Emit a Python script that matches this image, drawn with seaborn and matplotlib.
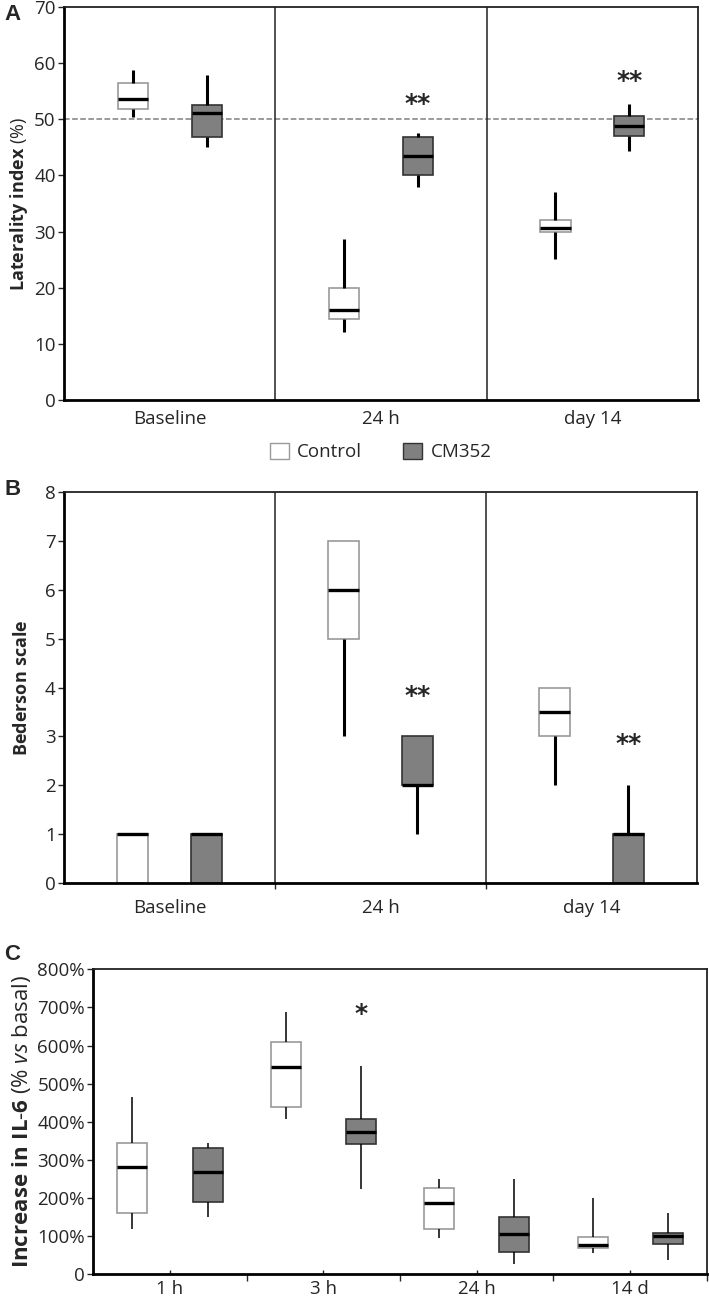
import pandas as pd
import seaborn as sns
import matplotlib.pyplot as plt
from matplotlib.patches import Patch
from matplotlib.ticker import FixedLocator, FuncFormatter

groups = ["Control", "CM352"]
colors = {"Control": "white", "CM352": "#808080"}

# five-number summaries: [min, q1, median, q3, max]
lat_times = ["Baseline", "24 h", "day 14"]
lat_control = [[50.5, 51.9, 53.6, 56.5, 58.7],
               [12.2, 14.4, 16.0, 19.9, 28.6],
               [25.2, 30.0, 30.6, 32.1, 37.0]]
lat_cm352 = [[45.1, 46.8, 51.2, 52.6, 57.9],
             [38.0, 40.0, 43.4, 46.8, 47.6],
             [44.4, 47.1, 48.8, 50.6, 52.8]]
lat_stars = ["", "**", "**"]
lat_star_y = [0, 52.8, 56.9]

bed_times = ["Baseline", "24 h", "day 14"]
bed_control = [[0, 0, 1, 1, 1],
               [3, 5, 6, 7, 7],
               [2, 3, 3.5, 4, 4]]
bed_cm352 = [[0, 0, 1, 1, 1],
             [1, 2, 2, 3, 3],
             [0, 0, 1, 1, 2]]
bed_stars = ["", "**", "**"]
bed_star_y = [0, 3.83, 2.85]

il6_times = ["1 h", "3 h", "24 h", "14 d"]
il6_control = [[118, 160, 281, 345, 465],
               [408, 439, 544, 608, 689],
               [96, 119, 186, 227, 250],
               [55, 68, 77, 99, 201]]
il6_cm352 = [[150, 189, 269, 330, 344],
             [224, 341, 372, 408, 545],
             [28, 59, 105, 150, 250],
             [38, 80, 101, 108, 160]]
il6_stars = ["", "*", "", ""]
il6_star_y = [0, 683, 0, 0]

FS = 13.5


def to_long(times, control, cm):
    rows = []
    for t, c, m in zip(times, control, cm):
        rows += [(t, "Control", v) for v in c]
        rows += [(t, "CM352", v) for v in m]
    return pd.DataFrame(rows, columns=["time", "group", "value"])


def draw_boxes(ax, df, order, width, gap, whisker_lw):
    sns.boxplot(data=df, x="time", y="value", hue="group", order=order,
                hue_order=groups, palette=colors, saturation=1, width=width,
                gap=gap, whis=(0, 100), showfliers=False, showcaps=False,
                legend=False, ax=ax, linewidth=1.2, linecolor="black",
                whiskerprops=dict(linewidth=whisker_lw, color="black"),
                medianprops=dict(linewidth=2.4, color="black"))
    for p in ax.patches:
        if p.get_facecolor()[0] > 0.9:
            p.set_edgecolor("#9a9a9a")
        else:
            p.set_edgecolor("#333333")


def stars(ax, labels, ys, offset, size):
    for i, (s, y) in enumerate(zip(labels, ys)):
        if s:
            ax.text(i + offset, y, s, ha="center", va="center", fontsize=size,
                    fontweight="bold", family="DejaVu Sans")


sns.set_style("white")
plt.rcParams["font.family"] = ["Open Sans", "DejaVu Sans"]
plt.rcParams["mathtext.fontset"] = "custom"
plt.rcParams["mathtext.rm"] = "Open Sans"
plt.rcParams["mathtext.bf"] = "Open Sans:bold"
plt.rcParams["mathtext.it"] = "Open Sans:italic"

fig = plt.figure(figsize=(7.09, 13.01), dpi=100)
axA = fig.add_axes([0.0903, 0.6925, 0.8942, 0.3021])
axB = fig.add_axes([0.0903, 0.3211, 0.8927, 0.3009])
axC = fig.add_axes([0.1316, 0.0205, 0.8654, 0.2345])

# panel A
draw_boxes(axA, to_long(lat_times, lat_control, lat_cm352), lat_times, 0.7, 0.59, 2.2)
axA.axhline(50, ls="--", color="#808080", lw=1.1, zorder=0)
for b in [0.5, 1.5]:
    axA.axvline(b, color="#222222", lw=1.1, zorder=0)
stars(axA, lat_stars, lat_star_y, 0.175, 18)
axA.set_xlim(-0.5, 2.5)
axA.set_ylim(0, 70)
axA.set_yticks(range(0, 71, 10))
axA.set_xlabel("")
axA.set_ylabel(r"$\bf{Laterality\ index}$ (%)", fontsize=13, labelpad=3)
axA.tick_params(axis="x", length=0, pad=7, labelsize=FS)
axA.tick_params(axis="y", left=True, length=4, width=1, pad=2, labelsize=FS)

# panel B
draw_boxes(axB, to_long(bed_times, bed_control, bed_cm352), bed_times, 0.7, 0.59, 2.2)
for b in [0.5, 1.5]:
    axB.axvline(b, color="#222222", lw=1.1, zorder=0)
stars(axB, bed_stars, bed_star_y, 0.175, 18)
axB.set_xlim(-0.5, 2.5)
axB.set_ylim(0, 8)
axB.set_yticks(range(0, 9))
axB.set_xlabel("")
axB.set_ylabel(r"$\bf{Bederson\ scale}$", fontsize=13, labelpad=10)
axB.xaxis.set_minor_locator(FixedLocator([0.5, 1.5]))
axB.tick_params(axis="x", which="major", length=0, pad=11, labelsize=FS)
axB.tick_params(axis="x", which="minor", bottom=True, length=4, width=1)
axB.tick_params(axis="y", left=True, length=4, width=1, pad=2, labelsize=FS)

# panel C
draw_boxes(axC, to_long(il6_times, il6_control, il6_cm352), il6_times, 0.98, 0.6, 1.1)
stars(axC, il6_stars, il6_star_y, 0.245, 18)
axC.set_xlim(-0.5, 3.5)
axC.set_ylim(0, 800)
axC.set_yticks(range(0, 801, 100))
axC.yaxis.set_major_formatter(FuncFormatter(lambda v, p: "0" if v == 0 else f"{int(v)}%"))
axC.set_xlabel("")
axC.set_ylabel(r"$\bf{Increase\ in\ IL}$-$\bf{6}$ (% $\it{vs}$ basal)", fontsize=16, labelpad=3)
axC.xaxis.set_minor_locator(FixedLocator([0.5, 1.5, 2.5, 3.5]))
axC.tick_params(axis="x", which="major", bottom=True, direction="in", length=3, width=1, pad=4, labelsize=FS)
axC.tick_params(axis="x", which="minor", bottom=True, length=5, width=1)
axC.tick_params(axis="y", left=True, length=4, width=1, pad=2, labelsize=FS)

for ax in [axA, axB, axC]:
    for side in ["top", "right"]:
        ax.spines[side].set_linewidth(1.3)
        ax.spines[side].set_color("#222222")
    for side in ["left", "bottom"]:
        ax.spines[side].set_linewidth(2)
        ax.spines[side].set_color("black")

handles = [Patch(facecolor="white", edgecolor="#9a9a9a", label="Control"),
           Patch(facecolor="#808080", edgecolor="#333333", label="CM352")]
fig.legend(handles=handles, loc="center", bbox_to_anchor=(0.537, 0.6526), ncol=2,
           frameon=False, fontsize=FS, handlelength=1, handleheight=1,
           handletextpad=0.45, columnspacing=2.2)

for letter, y in [("A", 15), ("B", 489), ("C", 955)]:
    fig.text(4 / 709, 1 - y / 1301, letter, fontsize=16, fontweight="bold",
             family="Liberation Sans", va="center", ha="left")

fig.savefig("out.png", dpi=100)
